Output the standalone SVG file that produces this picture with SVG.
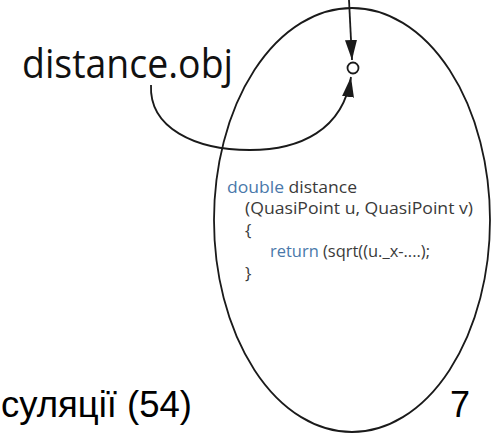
<svg xmlns="http://www.w3.org/2000/svg" width="494" height="433" viewBox="0 0 494 433">
<style>
.ln{fill:none;stroke:#1a1a1a;stroke-width:1.8}
.code{font-family:"Open Sans","DejaVu Sans",sans-serif;font-size:17px;fill:#3a3a3a}
.kw{fill:#4a78aa}
.big{font-family:"Liberation Sans",Arial,sans-serif;fill:#000}
</style>
<defs>
<marker id="ah" markerUnits="userSpaceOnUse" markerWidth="22" markerHeight="14" refX="20" refY="6" orient="auto">
<path d="M0,0 L20,6 L0,12 z" fill="#1a1a1a"/>
</marker>
</defs>
<rect width="494" height="433" fill="#fff"/>
<g id="module">
<ellipse class="ln" cx="352" cy="220" rx="138" ry="212"/>
</g>
<g id="entry">
<circle cx="353" cy="68" r="5.5" fill="#fff" stroke="#1a1a1a" stroke-width="1.8"/>
</g>
<g id="label">
<text x="22" y="78" font-family="'Open Sans','DejaVu Sans',sans-serif" font-size="40" fill="#111" textLength="211" lengthAdjust="spacingAndGlyphs">distance.obj</text>
</g>
<g id="code" class="code">
<text x="227" y="193" textLength="130" lengthAdjust="spacingAndGlyphs"><tspan class="kw">double</tspan> distance</text>
<text x="245" y="214" textLength="228" lengthAdjust="spacingAndGlyphs">(QuasiPoint u, QuasiPoint v)</text>
<text x="245" y="236">{</text>
<text x="270" y="257" textLength="160" lengthAdjust="spacingAndGlyphs"><tspan class="kw">return</tspan> (sqrt((u._x-....);</text>
<text x="245" y="279">}</text>
</g>
<g id="connectors">
<path class="ln" d="M349,0 L352,60" marker-end="url(#ah)"/>
<path class="ln" d="M151,85 C149,128 195,150 250,150 C300,150 343,130 351,77" marker-end="url(#ah)"/>
</g>
<g id="footer">
<text class="big" x="1" y="417" font-size="36" textLength="191" lengthAdjust="spacingAndGlyphs">суляції (54)</text>
<text class="big" x="450" y="417" font-size="36">7</text>
</g>
</svg>
